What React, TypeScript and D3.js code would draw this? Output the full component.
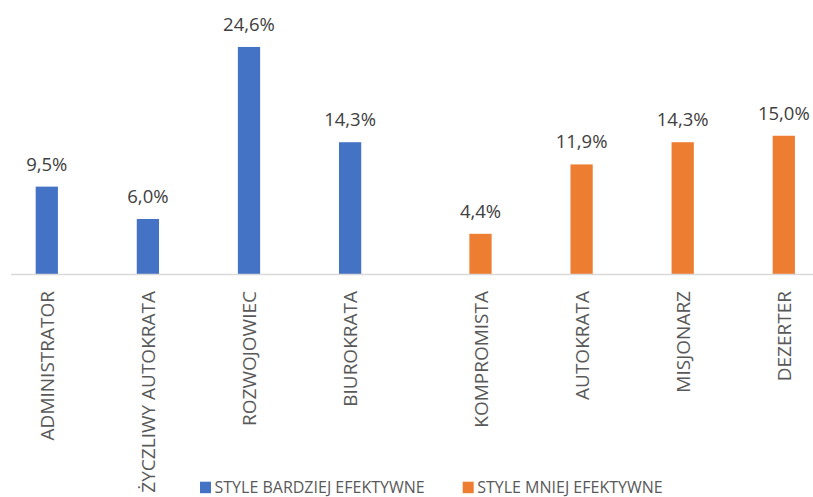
import React from "react";
import * as d3 from "d3";

const categories = [
  "ADMINISTRATOR",
  "ŻYCZLIWY AUTOKRATA",
  "ROZWOJOWIEC",
  "BIUROKRATA",
  "KOMPROMISTA",
  "AUTOKRATA",
  "MISJONARZ",
  "DEZERTER",
];
const groups = [0, 0, 0, 0, 1, 1, 1, 1];
const values = [9.5, 6.0, 24.6, 14.3, 4.4, 11.9, 14.3, 15.0];
const seriesNames = ["STYLE BARDZIEJ EFEKTYWNE", "STYLE MNIEJ EFEKTYWNE"];
const seriesColors = ["#4472C4", "#ED7D31"];

const W = 813;
const H = 497;
const baseY = 274.5;
const groupGap = 29.3;
const font = "'Open Sans', 'DejaVu Sans', sans-serif";

export default function App() {
  const x = d3
    .scaleBand<string>()
    .domain(categories)
    .range([-3.75, -3.75 + 8 * 101.1])
    .paddingInner(0.78)
    .paddingOuter(0.39);
  const y = d3.scaleLinear().domain([0, 25]).range([baseY, baseY - 25 * 9.25]);
  const xc = (i: number) =>
    (x(categories[i]) as number) + x.bandwidth() / 2 + groups[i] * groupGap;
  const fmt = (v: number) => v.toFixed(1).replace(".", ",") + "%";

  return (
    <svg
      width={W}
      height={H}
      style={{ position: "absolute", left: 0, top: 0, background: "#fff" }}
      fontFamily={font}
    >
      {values.map((v, i) => (
        <rect
          key={"b" + i}
          x={xc(i) - x.bandwidth() / 2}
          y={y(v)}
          width={x.bandwidth()}
          height={baseY - y(v)}
          fill={seriesColors[groups[i]]}
        />
      ))}
      <line x1={11} x2={W} y1={baseY} y2={baseY} stroke="#d9d9d9" strokeWidth={1.3} />
      {values.map((v, i) => (
        <text
          key={"v" + i}
          x={xc(i)}
          y={y(v) - 16}
          textAnchor="middle"
          fontSize={18.5}
          fill="#404040"
        >
          {fmt(v)}
        </text>
      ))}
      {categories.map((c, i) => (
        <text
          key={"c" + i}
          transform={`translate(${xc(i) + 7},${291}) rotate(-90)`}
          textAnchor="end"
          fontSize={19}
          fill="#595959"
        >
          {c}
        </text>
      ))}
      {seriesNames.map((s, k) => {
        const lx = [200, 462.7][k];
        return (
          <g key={"l" + k}>
            <rect x={lx} y={481.7} width={11} height={11.5} fill={seriesColors[k]} />
            <text x={lx + 14.5} y={493.3} fontSize={16} fill="#595959">
              {s}
            </text>
          </g>
        );
      })}
    </svg>
  );
}
